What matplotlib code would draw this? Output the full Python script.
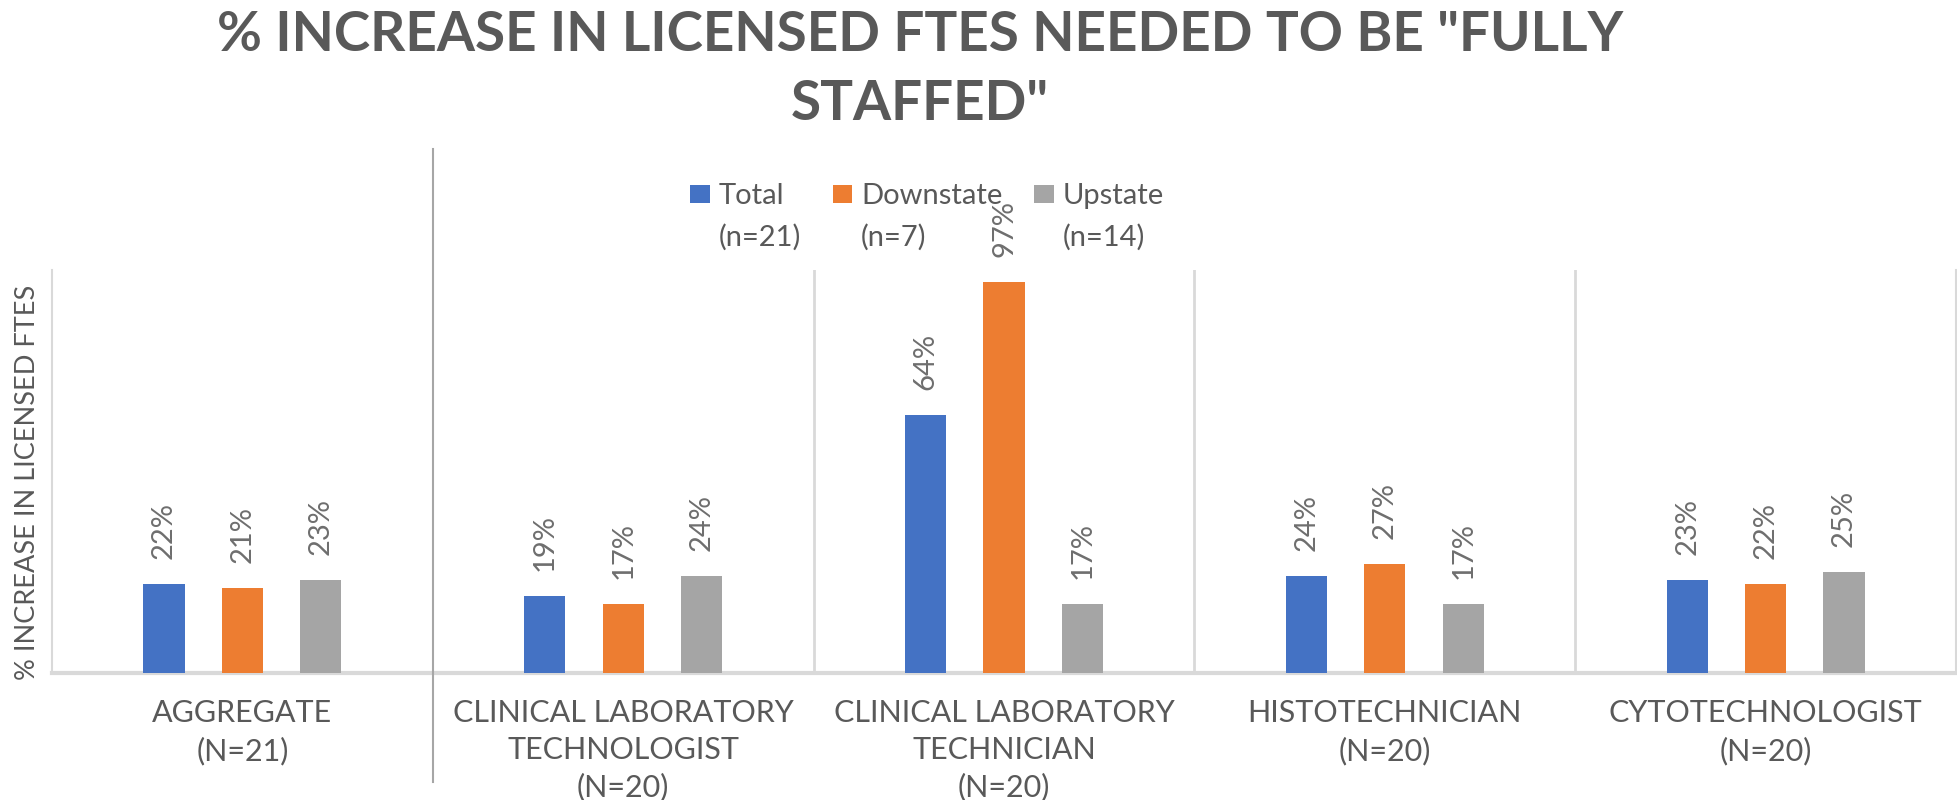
import numpy as np
import matplotlib
matplotlib.use("Agg")
import matplotlib.pyplot as plt
import matplotlib.patches as mpatches
from matplotlib.legend_handler import HandlerPatch
from matplotlib.ticker import NullLocator

# data
categories = ["AGGREGATE\n(N=21)",
              "CLINICAL LABORATORY\nTECHNOLOGIST\n(N=20)",
              "CLINICAL LABORATORY\nTECHNICIAN\n(N=20)",
              "HISTOTECHNICIAN\n(N=20)",
              "CYTOTECHNOLOGIST\n(N=20)"]
series_names = ["Total\n(n=21)", "Downstate\n(n=7)", "Upstate\n(n=14)"]
total = [0.22, 0.19, 0.64, 0.24, 0.23]
downstate = [0.21, 0.17, 0.97, 0.27, 0.22]
upstate = [0.23, 0.24, 0.17, 0.17, 0.25]

colors = ["#4472C4", "#ED7D31", "#A5A5A5"]
text_col = "#595959"
grid_col = "#D9D9D9"

plt.rcParams['font.family'] = ['Lato', 'DejaVu Sans']

fig = plt.figure(figsize=(19.57, 8), dpi=100)
ax = fig.add_axes([52/1957, 127/800, 1904/1957, 403/800])

x = np.arange(len(categories))
offset = 0.206
width = 0.108
bars = []
for i, vals in enumerate([total, downstate, upstate]):
    b = ax.bar(x + (i - 1)*offset, vals, width, color=colors[i], label=series_names[i], zorder=3)
    bars.append(b)
    for rect, v in zip(b, vals):
        ax.annotate("{:.0f}%".format(v*100), (rect.get_x() + rect.get_width()/2, v),
                    xytext=(0, 18), textcoords="offset points", rotation=90,
                    ha="center", va="bottom", fontsize=21, color="#6E6E6E")

ax.set_xlim(-0.5, len(categories) - 0.5)
ax.set_ylim(0, 1.0)
ax.yaxis.set_major_locator(NullLocator())
ax.set_xticks(x)
ax.set_xticklabels(categories, fontsize=22, color=text_col, linespacing=1.38)
ax.tick_params(axis="x", length=0, pad=19)

for s in ["left", "right"]:
    ax.spines[s].set_color(grid_col)
    ax.spines[s].set_linewidth(1.5)
ax.spines["top"].set_visible(False)
ax.spines["bottom"].set_color(grid_col)
ax.spines["bottom"].set_linewidth(3)

# category dividers
for k in range(1, len(categories)):
    if k == 1:
        ax.axvline(k - 0.5, ymin=-0.27, ymax=1.30, color="#A6A6A6", lw=1.5, clip_on=False, zorder=4)
    else:
        ax.axvline(k - 0.5, color=grid_col, lw=2, zorder=1)

ax.set_ylabel("% INCREASE IN LICENSED FTES", fontsize=19.5, color=text_col, va="center")
ax.yaxis.set_label_coords(-0.0131, 0.474)

fig.text(0.470, 0.988, '% INCREASE IN LICENSED FTES NEEDED TO BE "FULLY\nSTAFFED"',
         ha="center", va="top", fontsize=39.5, fontweight="bold", color=text_col, linespacing=1.48)


def top_patch(legend, orig_handle, xdescent, ydescent, width, height, fontsize):
    # put the colour box next to the first line of the label
    return mpatches.Rectangle((-xdescent, -ydescent + 0.78*fontsize), width, height)


leg = fig.legend(handles=[b[0] for b in bars], labels=series_names, loc="center",
                 bbox_to_anchor=(0.4737, 0.729), ncol=3, frameon=False, fontsize=21,
                 handlelength=0.66, handleheight=0.55, handletextpad=0.3, columnspacing=1.1,
                 handler_map={mpatches.Rectangle: HandlerPatch(patch_func=top_patch)})
for t in leg.get_texts():
    t.set_color(text_col)
    t.set_linespacing(1.65)

fig.savefig("out.png", dpi=100)
